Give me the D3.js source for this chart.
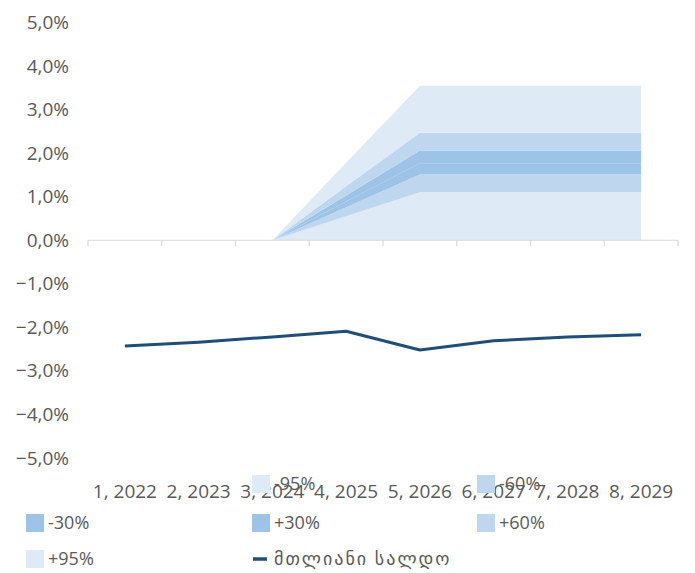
<!DOCTYPE html>
<meta charset="utf-8">
<style>
    body { margin: 0; background: #fff; }
    text { font-family: "Open Sans", "DejaVu Sans", sans-serif; fill: #595959; }
</style>
<body>
<svg width="695" height="573"></svg>
<script src="https://cdn.jsdelivr.net/npm/d3@7"></script>
<script>
    // categories and series (percent)
    var categories = ["1, 2022", "2, 2023", "3, 2024", "4, 2025", "5, 2026", "6, 2027", "7, 2028", "8, 2029"];
    var balance = [-2.43, -2.34, -2.22, -2.09, -2.52, -2.31, -2.22, -2.17];

    // fan chart band edges, null where there is no fan
    var lo95 = [null, null, 0, 0,    0,    0,    0,    0];
    var lo60 = [null, null, 0, 0.55, 1.10, 1.10, 1.10, 1.10];
    var lo30 = [null, null, 0, 0.76, 1.51, 1.51, 1.51, 1.51];
    var mid  = [null, null, 0, 0.89, 1.77, 1.77, 1.77, 1.77];
    var hi30 = [null, null, 0, 1.03, 2.06, 2.06, 2.06, 2.06];
    var hi60 = [null, null, 0, 1.24, 2.47, 2.47, 2.47, 2.47];
    var hi95 = [null, null, 0, 1.78, 3.55, 3.55, 3.55, 3.55];

    var yTicks = [5, 4, 3, 2, 1, 0, -1, -2, -3, -4, -5];

    var bands = [
        { name: "-95%", lo: lo95, hi: lo60, color: "#deeaf6" },
        { name: "-60%", lo: lo60, hi: lo30, color: "#bed7ee" },
        { name: "-30%", lo: lo30, hi: mid,  color: "#9dc3e6" },
        { name: "+30%", lo: mid,  hi: hi30, color: "#9dc3e6" },
        { name: "+60%", lo: hi30, hi: hi60, color: "#bed7ee" },
        { name: "+95%", lo: hi60, hi: hi95, color: "#deeaf6" }
    ];

    var svg = d3.select("svg");
    var fontSize = 19;

    var x = d3.scaleBand().domain(categories).range([88, 678]);
    var y = d3.scaleLinear().domain([-5, 5]).range([458, 22.5]);
    var cx = function (i) { return x(categories[i]) + x.bandwidth() / 2; };

    var locale = d3.formatLocale({ decimal: ",", thousands: ".", grouping: [3], currency: ["", ""] });
    var fmt = locale.format(".1f");

    // y axis labels
    var yAxis = svg.append("g")
        .attr("transform", "translate(69,0)")
        .call(d3.axisLeft(y).tickValues(yTicks).tickSize(0).tickPadding(0)
            .tickFormat(function (d) { return fmt(d) + "%"; }));
    yAxis.select(".domain").remove();
    yAxis.selectAll("text")
        .style("font-size", fontSize + "px")
        .style("font-family", null)
        .attr("fill", null);

    // fan bands
    bands.forEach(function (b) {
        var idx = d3.range(categories.length).filter(function (i) { return b.lo[i] !== null; });
        var area = d3.area()
            .x(function (i) { return cx(i); })
            .y0(function (i) { return y(b.lo[i]); })
            .y1(function (i) { return y(b.hi[i]); });
        svg.append("path")
            .datum(idx)
            .attr("fill", b.color)
            .attr("d", area);
    });

    // zero axis with ticks between categories
    var zero = svg.append("g").attr("transform", "translate(0," + y(0) + ")");
    zero.append("line")
        .attr("x1", x.range()[0]).attr("x2", x.range()[1])
        .attr("stroke", "#d9d9d9").attr("stroke-width", 1.2);
    var bounds = categories.map(function (c) { return x(c); }).concat([x.range()[1]]);
    zero.selectAll(".tk")
        .data(bounds)
        .enter().append("line")
        .attr("class", "tk")
        .attr("x1", function (d) { return d; }).attr("x2", function (d) { return d; })
        .attr("y1", 0).attr("y2", 6)
        .attr("stroke", "#d9d9d9").attr("stroke-width", 1.2);

    // balance line
    var line = d3.line()
        .x(function (d, i) { return cx(i); })
        .y(function (d) { return y(d); });
    svg.append("path")
        .datum(balance)
        .attr("fill", "none")
        .attr("stroke", "#1f4e79")
        .attr("stroke-width", 3)
        .attr("stroke-linejoin", "round")
        .attr("d", line);

    // category labels at the bottom
    var xAxis = svg.append("g")
        .attr("transform", "translate(0,491)")
        .call(d3.axisBottom(x).tickSize(0).tickPadding(0));
    xAxis.select(".domain").remove();
    xAxis.selectAll("text")
        .attr("dy", "0.35em")
        .attr("y", 0)
        .style("font-size", fontSize + "px")
        .style("font-family", null)
        .attr("fill", null);

    // legend: three columns, first cell empty
    var legendItems = bands.map(function (b) { return { name: b.name, color: b.color, type: "box" }; })
        .concat([{ name: "მთლიანი სალდო", color: "#1f4e79", type: "line" }]);
    var colX = [26, 252, 477];
    var rowY = [484, 523, 559];

    var legend = svg.append("g");
    legendItems.forEach(function (d, k) {
        var slot = k + 1;
        var g = legend.append("g")
            .attr("transform", "translate(" + colX[slot % 3] + "," + rowY[Math.floor(slot / 3)] + ")");
        if (d.type === "box") {
            g.append("rect")
                .attr("x", 0).attr("y", -9)
                .attr("width", 18).attr("height", 18)
                .attr("fill", d.color);
        } else {
            g.append("line")
                .attr("x1", 1).attr("x2", 15)
                .attr("stroke", d.color).attr("stroke-width", 3.5);
        }
        g.append("text")
            .attr("x", 22)
            .attr("dy", "0.35em")
            .style("font-size", "18px")
            .style("letter-spacing", d.type === "line" ? "2px" : null)
            .text(d.name);
    });
</script>
</body>
